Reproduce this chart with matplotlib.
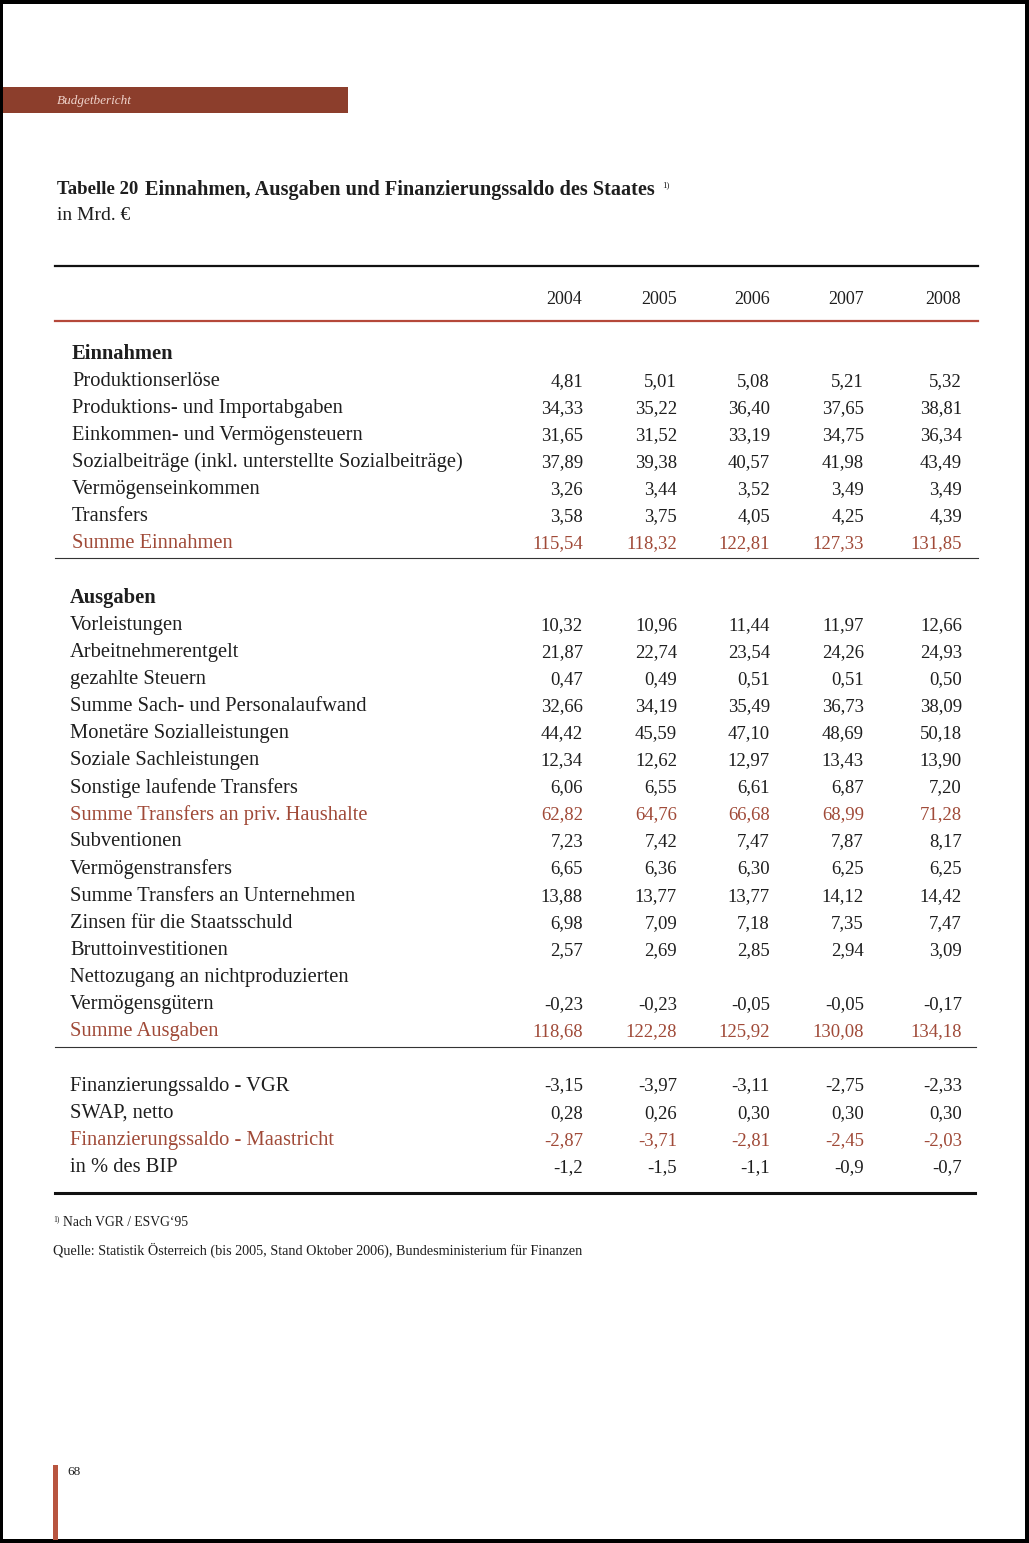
import matplotlib.pyplot as plt
from matplotlib.patches import Rectangle

# Daten (Mrd. Euro)
years = ['2004', '2005', '2006', '2007', '2008']

einnahmen_labels = ['Produktionserlöse', 'Produktions- und Importabgaben',
                    'Einkommen- und Vermögensteuern',
                    'Sozialbeiträge (inkl. unterstellte Sozialbeiträge)',
                    'Vermögenseinkommen', 'Transfers', 'Summe Einnahmen']
einnahmen_2004 = [4.81, 34.33, 31.65, 37.89, 3.26, 3.58, 115.54]
einnahmen_2005 = [5.01, 35.22, 31.52, 39.38, 3.44, 3.75, 118.32]
einnahmen_2006 = [5.08, 36.40, 33.19, 40.57, 3.52, 4.05, 122.81]
einnahmen_2007 = [5.21, 37.65, 34.75, 41.98, 3.49, 4.25, 127.33]
einnahmen_2008 = [5.32, 38.81, 36.34, 43.49, 3.49, 4.39, 131.85]

ausgaben_labels = ['Vorleistungen', 'Arbeitnehmerentgelt', 'gezahlte Steuern',
                   'Summe Sach- und Personalaufwand', 'Monetäre Sozialleistungen',
                   'Soziale Sachleistungen', 'Sonstige laufende Transfers',
                   'Summe Transfers an priv. Haushalte', 'Subventionen',
                   'Vermögenstransfers', 'Summe Transfers an Unternehmen',
                   'Zinsen für die Staatsschuld', 'Bruttoinvestitionen',
                   'Nettozugang an nichtproduzierten', 'Vermögensgütern',
                   'Summe Ausgaben']
ausgaben_2004 = [10.32, 21.87, 0.47, 32.66, 44.42, 12.34, 6.06, 62.82, 7.23, 6.65, 13.88, 6.98, 2.57, None, -0.23, 118.68]
ausgaben_2005 = [10.96, 22.74, 0.49, 34.19, 45.59, 12.62, 6.55, 64.76, 7.42, 6.36, 13.77, 7.09, 2.69, None, -0.23, 122.28]
ausgaben_2006 = [11.44, 23.54, 0.51, 35.49, 47.10, 12.97, 6.61, 66.68, 7.47, 6.30, 13.77, 7.18, 2.85, None, -0.05, 125.92]
ausgaben_2007 = [11.97, 24.26, 0.51, 36.73, 48.69, 13.43, 6.87, 68.99, 7.87, 6.25, 14.12, 7.35, 2.94, None, -0.05, 130.08]
ausgaben_2008 = [12.66, 24.93, 0.50, 38.09, 50.18, 13.90, 7.20, 71.28, 8.17, 6.25, 14.42, 7.47, 3.09, None, -0.17, 134.18]

saldo_labels = ['Finanzierungssaldo - VGR', 'SWAP, netto',
                'Finanzierungssaldo - Maastricht', 'in % des BIP']
saldo_2004 = [-3.15, 0.28, -2.87, -1.2]
saldo_2005 = [-3.97, 0.26, -3.71, -1.5]
saldo_2006 = [-3.11, 0.30, -2.81, -1.1]
saldo_2007 = [-2.75, 0.30, -2.45, -0.9]
saldo_2008 = [-2.33, 0.30, -2.03, -0.7]
saldo_decimals = [2, 2, 2, 1]

red_rows = {'Summe Einnahmen', 'Summe Transfers an priv. Haushalte',
            'Summe Ausgaben', 'Finanzierungssaldo - Maastricht'}

RED = '#a04a38'
BAR = '#8c3e2c'
TXT = '#1e1e1e'
FONT = 'Liberation Serif'


def fmt(v, d=2):
    if v is None:
        return ''
    return f'{v:.{d}f}'.replace('.', ',')


fig = plt.figure(figsize=(10.29, 15.43), dpi=100)
ax = fig.add_axes([0, 0, 1, 1])
ax.set_xlim(0, 1029)
ax.set_ylim(1543, 0)
ax.axis('off')

# Seitenrand (Scan)
for x, y, w, h in [(0, 0, 1029, 4), (0, 1539, 1029, 4), (0, 0, 3, 1543), (1025, 0, 4, 1543)]:
    ax.add_patch(Rectangle((x, y), w, h, color='black', lw=0))

# Kopfzeile
ax.add_patch(Rectangle((3, 87), 345, 26, color=BAR, lw=0))
ax.text(57, 101, 'Budgetbericht', color='#f0d4cc', fontsize=9.5, style='italic',
        family=FONT, va='center')

# Titel
ax.text(57, 190, 'Tabelle 20', fontsize=13.5, weight='bold', family=FONT, color=TXT, va='center')
ax.text(145, 190, 'Einnahmen, Ausgaben und Finanzierungssaldo des Staates', fontsize=14.6,
        weight='bold', family=FONT, color=TXT, va='center')
ax.text(662, 185, '1)', fontsize=6.5, family=FONT, color=TXT, va='center')
ax.text(57, 216, 'in Mrd. €', fontsize=14, family=FONT, color=TXT, va='center')

# Linien
ax.plot([55, 978], [266, 266], color='#111111', lw=1.6)
ax.plot([55, 978], [321, 321], color='#b5483a', lw=1.6)
ax.plot([55, 978], [558, 558], color='#333333', lw=0.8)
ax.plot([55, 976], [1047, 1047], color='#333333', lw=0.8)
ax.plot([55, 975], [1193, 1193], color='#111111', lw=2.2)

col_x = [583, 677, 770, 864, 962]
head_x = [564, 659, 752, 846, 943]
for yr, hx in zip(years, head_x):
    ax.text(hx, 299, yr, fontsize=13, family=FONT, color=TXT, ha='center', va='center')

row_h = 27.1
fs = 14.8
fs_num = 13.5


def block(title, y0, lx, labels, cols, decimals=None):
    ax.text(lx, y0, title, fontsize=fs, weight='bold', family=FONT, color=TXT, va='center')
    for i, lab in enumerate(labels):
        y = y0 + row_h * (i + 1)
        c = RED if lab in red_rows else TXT
        ax.text(lx, y, lab, fontsize=fs, family=FONT, color=c, va='center')
        d = decimals[i] if decimals else 2
        for vals, cx in zip(cols, col_x):
            ax.text(cx, y, fmt(vals[i], d), fontsize=fs_num, family=FONT, color=c,
                    ha='right', va='center')


block('Einnahmen', 354, 72, einnahmen_labels,
      [einnahmen_2004, einnahmen_2005, einnahmen_2006, einnahmen_2007, einnahmen_2008])
block('Ausgaben', 598, 70, ausgaben_labels,
      [ausgaben_2004, ausgaben_2005, ausgaben_2006, ausgaben_2007, ausgaben_2008])

for i, lab in enumerate(saldo_labels):
    y = 1086 + row_h * i
    c = RED if lab in red_rows else TXT
    ax.text(70, y, lab, fontsize=fs, family=FONT, color=c, va='center')
    for vals, cx in zip([saldo_2004, saldo_2005, saldo_2006, saldo_2007, saldo_2008], col_x):
        ax.text(cx, y, fmt(vals[i], saldo_decimals[i]), fontsize=fs_num, family=FONT,
                color=c, ha='right', va='center')

# Fußnoten
ax.text(53, 1219, '1)', fontsize=5.5, family=FONT, color=TXT, va='center')
ax.text(63, 1223, 'Nach VGR / ESVG‘95', fontsize=9.8, family=FONT, color=TXT, va='center')
ax.text(53, 1250, 'Quelle: Statistik Österreich (bis 2005, Stand Oktober 2006), Bundesministerium für Finanzen',
        fontsize=10.2, family=FONT, color=TXT, va='center')

# Seitenzahl
ax.add_patch(Rectangle((53, 1465), 5, 75, color='#b8553f', lw=0))
ax.text(67, 1472, '68', fontsize=9.5, family=FONT, color=TXT, va='center')

fig.savefig('out.png', dpi=100)
